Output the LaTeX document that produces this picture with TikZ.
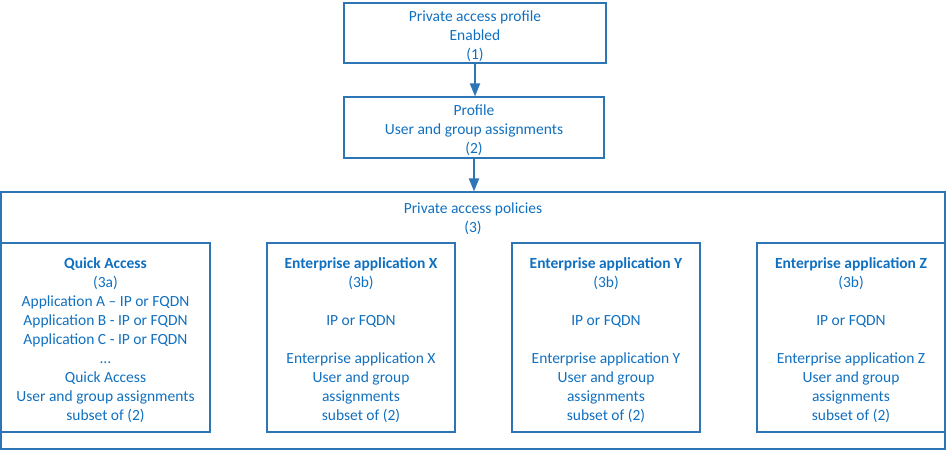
\documentclass[tikz,border=0pt]{standalone}
\usepackage{fontspec}
\setmainfont{Carlito}
\usetikzlibrary{arrows.meta,positioning,calc}
\definecolor{AccessLine}{HTML}{2E75B6}
\definecolor{AccessText}{HTML}{1070C0}
\newcommand{\topstrut}{\rule{0pt}{16.5pt}}
\tikzset{accesstext/.style={align=center,text=AccessText,inner sep=0pt,
  font=\fontsize{15.5}{19}\selectfont}}
\newcommand{\accessbox}[3]{%
  \node[draw=AccessLine,line width=1.2pt,accesstext,#3] (#1) {\topstrut#2};}

\begin{document}
\begin{tikzpicture}[x=1pt,y=-1pt,>=Latex]
  \useasboundingbox (0,0) rectangle (947,451);
  \accessbox{profile}{Private access profile\\Enabled\\(1)}%
    {minimum width=262pt,minimum height=60pt,at={(475,33)}}
  \accessbox{groups}{Profile\\User and group assignments\\(2)}%
    {minimum width=260pt,minimum height=61pt,at={(474,127.5)}}
  \node[draw=AccessLine,line width=1.2pt,minimum width=944pt,minimum height=257pt]
    (policies) at (473,320.5) {};
  \node[accesstext] (policytitle) at (473,216) {\topstrut Private access policies\\(3)};
  \accessbox{quick}{\textbf{Quick Access}\\(3a)\\Application A -- IP or FQDN\\
    Application B - IP or FQDN\\Application C - IP or FQDN\\\dots\\Quick Access\\
    User and group assignments\\subset of (2)}%
    {minimum width=209pt,minimum height=189pt,at={(105.5,337.5)}}
  \accessbox{appx}{\textbf{Enterprise application X}\\(3b)\\[19pt]IP or FQDN\\[19pt]
    Enterprise application X\\User and group\\assignments\\subset of (2)}%
    {minimum width=188pt,minimum height=189pt,at={(361,337.5)}}
  \accessbox{appy}{\textbf{Enterprise application Y}\\(3b)\\[19pt]IP or FQDN\\[19pt]
    Enterprise application Y\\User and group\\assignments\\subset of (2)}%
    {minimum width=188pt,minimum height=189pt,at={(606,337.5)}}
  \accessbox{appz}{\textbf{Enterprise application Z}\\(3b)\\[19pt]IP or FQDN\\[19pt]
    Enterprise application Z\\User and group\\assignments\\subset of (2)}%
    {minimum width=188pt,minimum height=189pt,at={(851,337.5)}}
  \draw[-{Triangle[length=13pt,width=10pt]},AccessLine,line width=2pt]
    (profile.south) -- (groups.north -| profile.south);
  \draw[-{Triangle[length=13pt,width=10pt]},AccessLine,line width=2pt]
    (groups.south) -- (groups.south |- policies.north);
\end{tikzpicture}
\end{document}
